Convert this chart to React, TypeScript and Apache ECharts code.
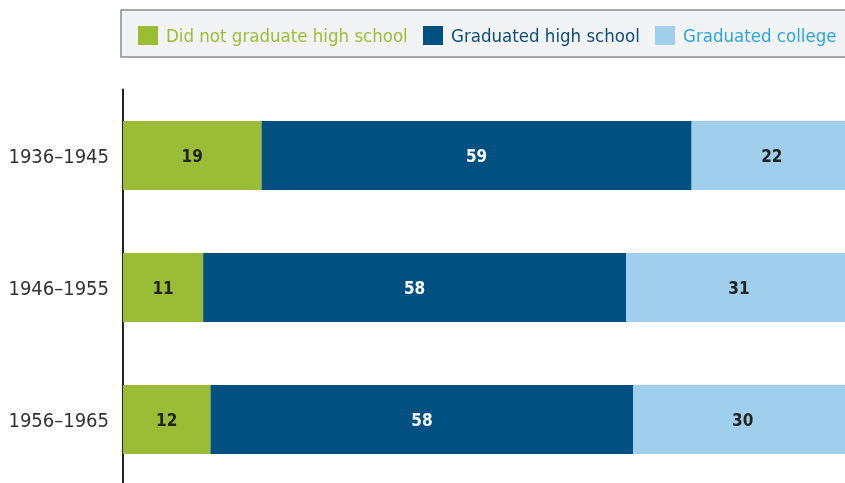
import React, { useEffect, useRef } from "react";
import * as echarts from "echarts";

const categories = ["1936–1945", "1946–1955", "1956–1965"];
const seriesNames = ["Did not graduate high school", "Graduated high school", "Graduated college"];
const didNotGraduate = [19, 11, 12];
const graduatedHS = [59, 58, 58];
const graduatedCollege = [22, 31, 30];

const barColors = ["#9BBD35", "#005082", "#A0CFEE"];
const legendTextColors = ["#9BBD35", "#0D4C7A", "#2BA6DE"];
const labelColors = ["#222222", "#FFFFFF", "#222222"];

const FONT = "'DejaVu Sans Condensed', 'Liberation Sans Narrow', sans-serif";

export default function App() {
  const ref = useRef<HTMLDivElement>(null);
  useEffect(() => {
    if (!ref.current) return;
    const chart = echarts.init(ref.current, undefined, { renderer: "svg" });
    const values = [didNotGraduate, graduatedHS, graduatedCollege];
    const legendLefts = [138, 423, 655];
    chart.setOption({
      animation: false,
      textStyle: { fontFamily: FONT },
      graphic: [
        {
          type: "rect",
          shape: { x: 121, y: 10, width: 760, height: 47 },
          style: { fill: "#F1F3F5", stroke: "#8C8C8C", lineWidth: 1.5 },
          z: -1,
        },
      ],
      legend: seriesNames.map((n, i) => ({
        data: [{ name: n, textStyle: { color: legendTextColors[i] } }],
        left: legendLefts[i],
        top: 26,
        padding: 0,
        itemWidth: 20,
        itemHeight: 19,
        icon: "rect",
        selectedMode: false,
        textStyle: { fontFamily: FONT, fontSize: 18.5, padding: [0, 0, 0, 3] },
      })),
      grid: { left: 123, top: 89.5, width: 729, height: 396, containLabel: false },
      xAxis: {
        type: "value",
        min: 0,
        max: 100,
        show: false,
      },
      yAxis: {
        type: "category",
        data: categories,
        inverse: true,
        axisLine: { show: true, lineStyle: { color: "#222", width: 2 } },
        axisTick: { show: false },
        axisLabel: { color: "#333", fontSize: 20, margin: 14, fontFamily: FONT },
      },
      series: seriesNames.map((n, i) => ({
        name: n,
        type: "bar",
        stack: "total",
        barWidth: 69,
        data: values[i],
        itemStyle: { color: barColors[i] },
        label: {
          show: true,
          position: "inside",
          color: labelColors[i],
          fontSize: 17,
          fontWeight: "bold",
          fontFamily: FONT,
        },
      })),
    });
    return () => chart.dispose();
  }, []);
  return (
    <div
      ref={ref}
      style={{ position: "fixed", left: 0, top: 0, width: 880, height: 500 }}
    />
  );
}
